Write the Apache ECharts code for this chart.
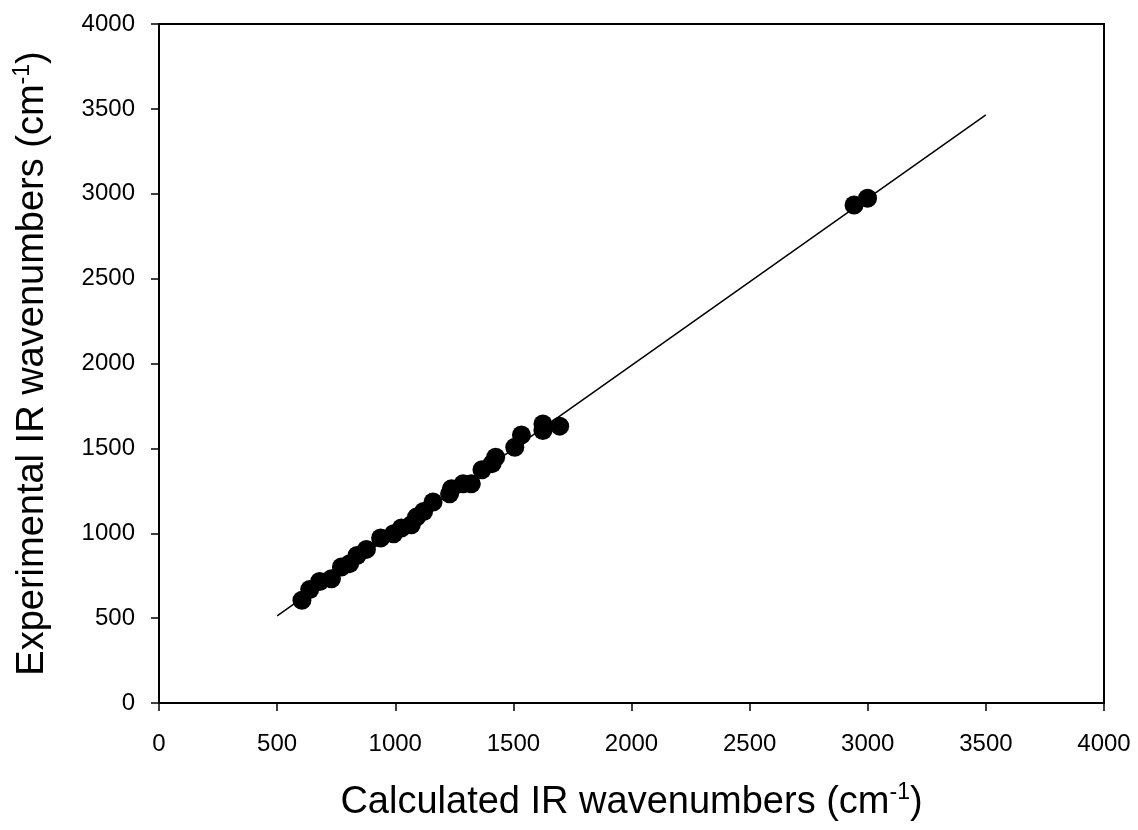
<!DOCTYPE html>
<html>
<head>
<meta charset="utf-8">
<title>IR wavenumbers</title>
<script src="https://cdn.jsdelivr.net/npm/echarts@6/dist/echarts.min.js"></script>
<style>
  html, body { margin: 0; padding: 0; background: #fff; }
  #chart { width: 1138px; height: 830px; }
</style>
</head>
<body>
<div id="chart"></div>
<script>
// calculated (x) vs experimental (y) wavenumbers
const calcWn = [605, 638, 680, 730, 772, 807, 838, 878, 938, 993, 1026, 1068, 1090, 1120, 1160,
  1230, 1238, 1287, 1322, 1367, 1410, 1425, 1506, 1534, 1625, 1625, 1696, 2942, 2999];
const expWn = [605, 669, 716, 732, 801, 821, 869, 905, 972, 997, 1031, 1050, 1095, 1128, 1184,
  1232, 1262, 1291, 1291, 1374, 1410, 1448, 1507, 1579, 1605, 1644, 1631, 2934, 2974];
// regression line end points
const fitX = [500, 3500];
const fitY = [513, 3465];
const tickValues = [0, 500, 1000, 1500, 2000, 2500, 3000, 3500, 4000];

const font = "'Liberation Sans', Arial, sans-serif";
const points = calcWn.map((x, i) => [x, expWn[i]]);
const fitLine = fitX.map((x, i) => [x, fitY[i]]);

const axisCommon = {
  type: 'value',
  min: tickValues[0],
  max: tickValues[tickValues.length - 1],
  interval: 500,
  splitLine: {show: false},
  axisLine: {show: true, onZero: false, lineStyle: {color: '#000', width: 2}},
  axisTick: {show: true, inside: false, length: 8, lineStyle: {color: '#000', width: 1.5}},
  nameLocation: 'middle',
  nameTextStyle: {
    fontFamily: font, fontSize: 38, color: '#000', lineHeight: 44,
    rich: {
      sup: {fontFamily: font, fontSize: 23, color: '#000', verticalAlign: 'top', lineHeight: 44, padding: [0, 0, 16, 0]}
    }
  }
};

const myChart = echarts.init(document.getElementById('chart'));
myChart.setOption({
  animation: false,
  backgroundColor: '#fff',
  grid: {left: 159, right: 34, top: 24, bottom: 126, show: true, borderColor: '#000', borderWidth: 2},
  xAxis: {
    ...axisCommon,
    name: 'Calculated IR wavenumbers (cm{sup|-1})',
    nameGap: 78,
    axisLabel: {margin: 29, fontFamily: font, fontSize: 24, color: '#000', formatter: v => String(v)}
  },
  yAxis: {
    ...axisCommon,
    name: 'Experimental IR wavenumbers (cm{sup|-1})',
    nameGap: 104,
    axisLabel: {margin: 24, fontFamily: font, fontSize: 24, color: '#000', formatter: v => String(v)}
  },
  series: [
    {
      type: 'line',
      data: fitLine,
      symbol: 'none',
      lineStyle: {color: '#000', width: 1.5},
      z: 2
    },
    {
      type: 'scatter',
      data: points,
      symbol: 'circle',
      symbolSize: 19,
      itemStyle: {color: '#000', opacity: 1},
      z: 3
    }
  ]
});
</script>
</body>
</html>
